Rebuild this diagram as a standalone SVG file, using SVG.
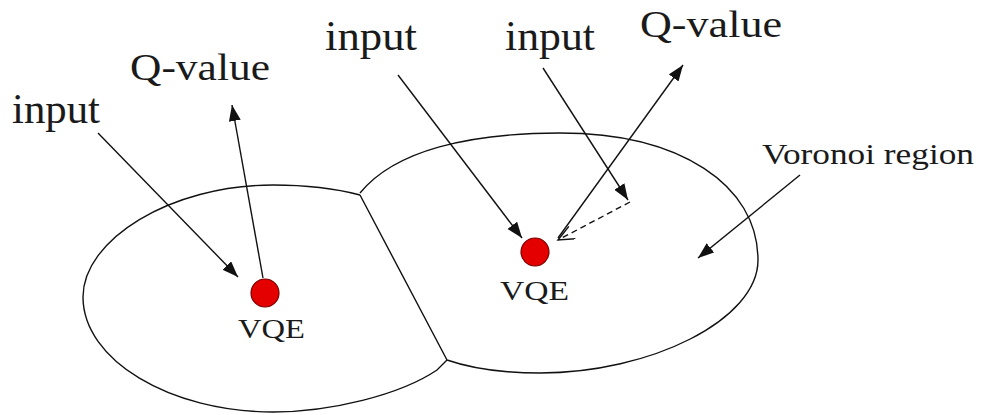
<svg xmlns="http://www.w3.org/2000/svg" width="983" height="415" viewBox="0 0 983 415">
<defs>
<style>
.txt{font-family:"Liberation Serif","Times New Roman",serif;fill:#1a1a1a}
.big{font-size:42px}
.region{fill:none;stroke:#111;stroke-width:1.4}
.conn{fill:none;stroke:#111;stroke-width:1.4}
.dot{fill:#e50000;stroke:#7a0000;stroke-width:1.2}
</style>
<marker id="ah" markerUnits="userSpaceOnUse" markerWidth="18" markerHeight="14" refX="16" refY="6" orient="auto">
<path d="M0,0 L16,6 L0,12 z" fill="#111"/>
</marker>
<marker id="oh" markerUnits="userSpaceOnUse" markerWidth="20" markerHeight="16" refX="17" refY="7" orient="auto">
<path d="M1,0 L17,7 L1,14" fill="none" stroke="#111" stroke-width="1.4"/>
</marker>
</defs>
<rect width="983" height="415" fill="#fff"/>
<g id="region-left">
<path class="region" d="M360,195 C330,187 300,185 273,185 C170,185 83,240 83,297 C83,360 170,412 273,412 C330,412 400,395 437,370 L447,360"/>
</g>
<g id="region-right">
<path class="region" d="M360,193 C395,150 470,133 560,133 C680,133 758,185 758,260 C758,320 650,373 540,373 C500,373 470,368 447,360 L360,195"/>
</g>
<g id="vqe-left">
<circle class="dot" cx="265" cy="293" r="14"/>
<text class="txt" x="238" y="338" font-size="28" textLength="67" lengthAdjust="spacingAndGlyphs">VQE</text>
</g>
<g id="vqe-right">
<circle class="dot" cx="535" cy="252" r="14"/>
<text class="txt" x="500" y="300" font-size="28" textLength="69" lengthAdjust="spacingAndGlyphs">VQE</text>
</g>
<g id="labels">
<text class="txt big" x="12" y="123" textLength="88" lengthAdjust="spacingAndGlyphs">input</text>
<text class="txt" x="130" y="80" font-size="38" textLength="140" lengthAdjust="spacingAndGlyphs">Q-value</text>
<text class="txt big" x="325" y="50" textLength="92" lengthAdjust="spacingAndGlyphs">input</text>
<text class="txt big" x="505" y="50" textLength="90" lengthAdjust="spacingAndGlyphs">input</text>
<text class="txt" x="640" y="37" font-size="38" textLength="142" lengthAdjust="spacingAndGlyphs">Q-value</text>
<text class="txt" x="762" y="164" font-size="30" textLength="212" lengthAdjust="spacingAndGlyphs">Voronoi region</text>
</g>
<g id="connectors">
<line class="conn" x1="98" y1="133" x2="238" y2="277" marker-end="url(#ah)"/>
<line class="conn" x1="263" y1="278" x2="232" y2="105" marker-end="url(#ah)"/>
<line class="conn" x1="398" y1="75" x2="522" y2="238" marker-end="url(#ah)"/>
<line class="conn" x1="543" y1="68" x2="628" y2="200" marker-end="url(#ah)"/>
<line class="conn" x1="558" y1="238" x2="683" y2="65" marker-end="url(#ah)"/>
<line class="conn" x1="630" y1="202" x2="558" y2="240" stroke-dasharray="6,4" marker-end="url(#oh)"/>
<line class="conn" x1="800" y1="175" x2="698" y2="258" marker-end="url(#ah)"/>
</g>
</svg>
